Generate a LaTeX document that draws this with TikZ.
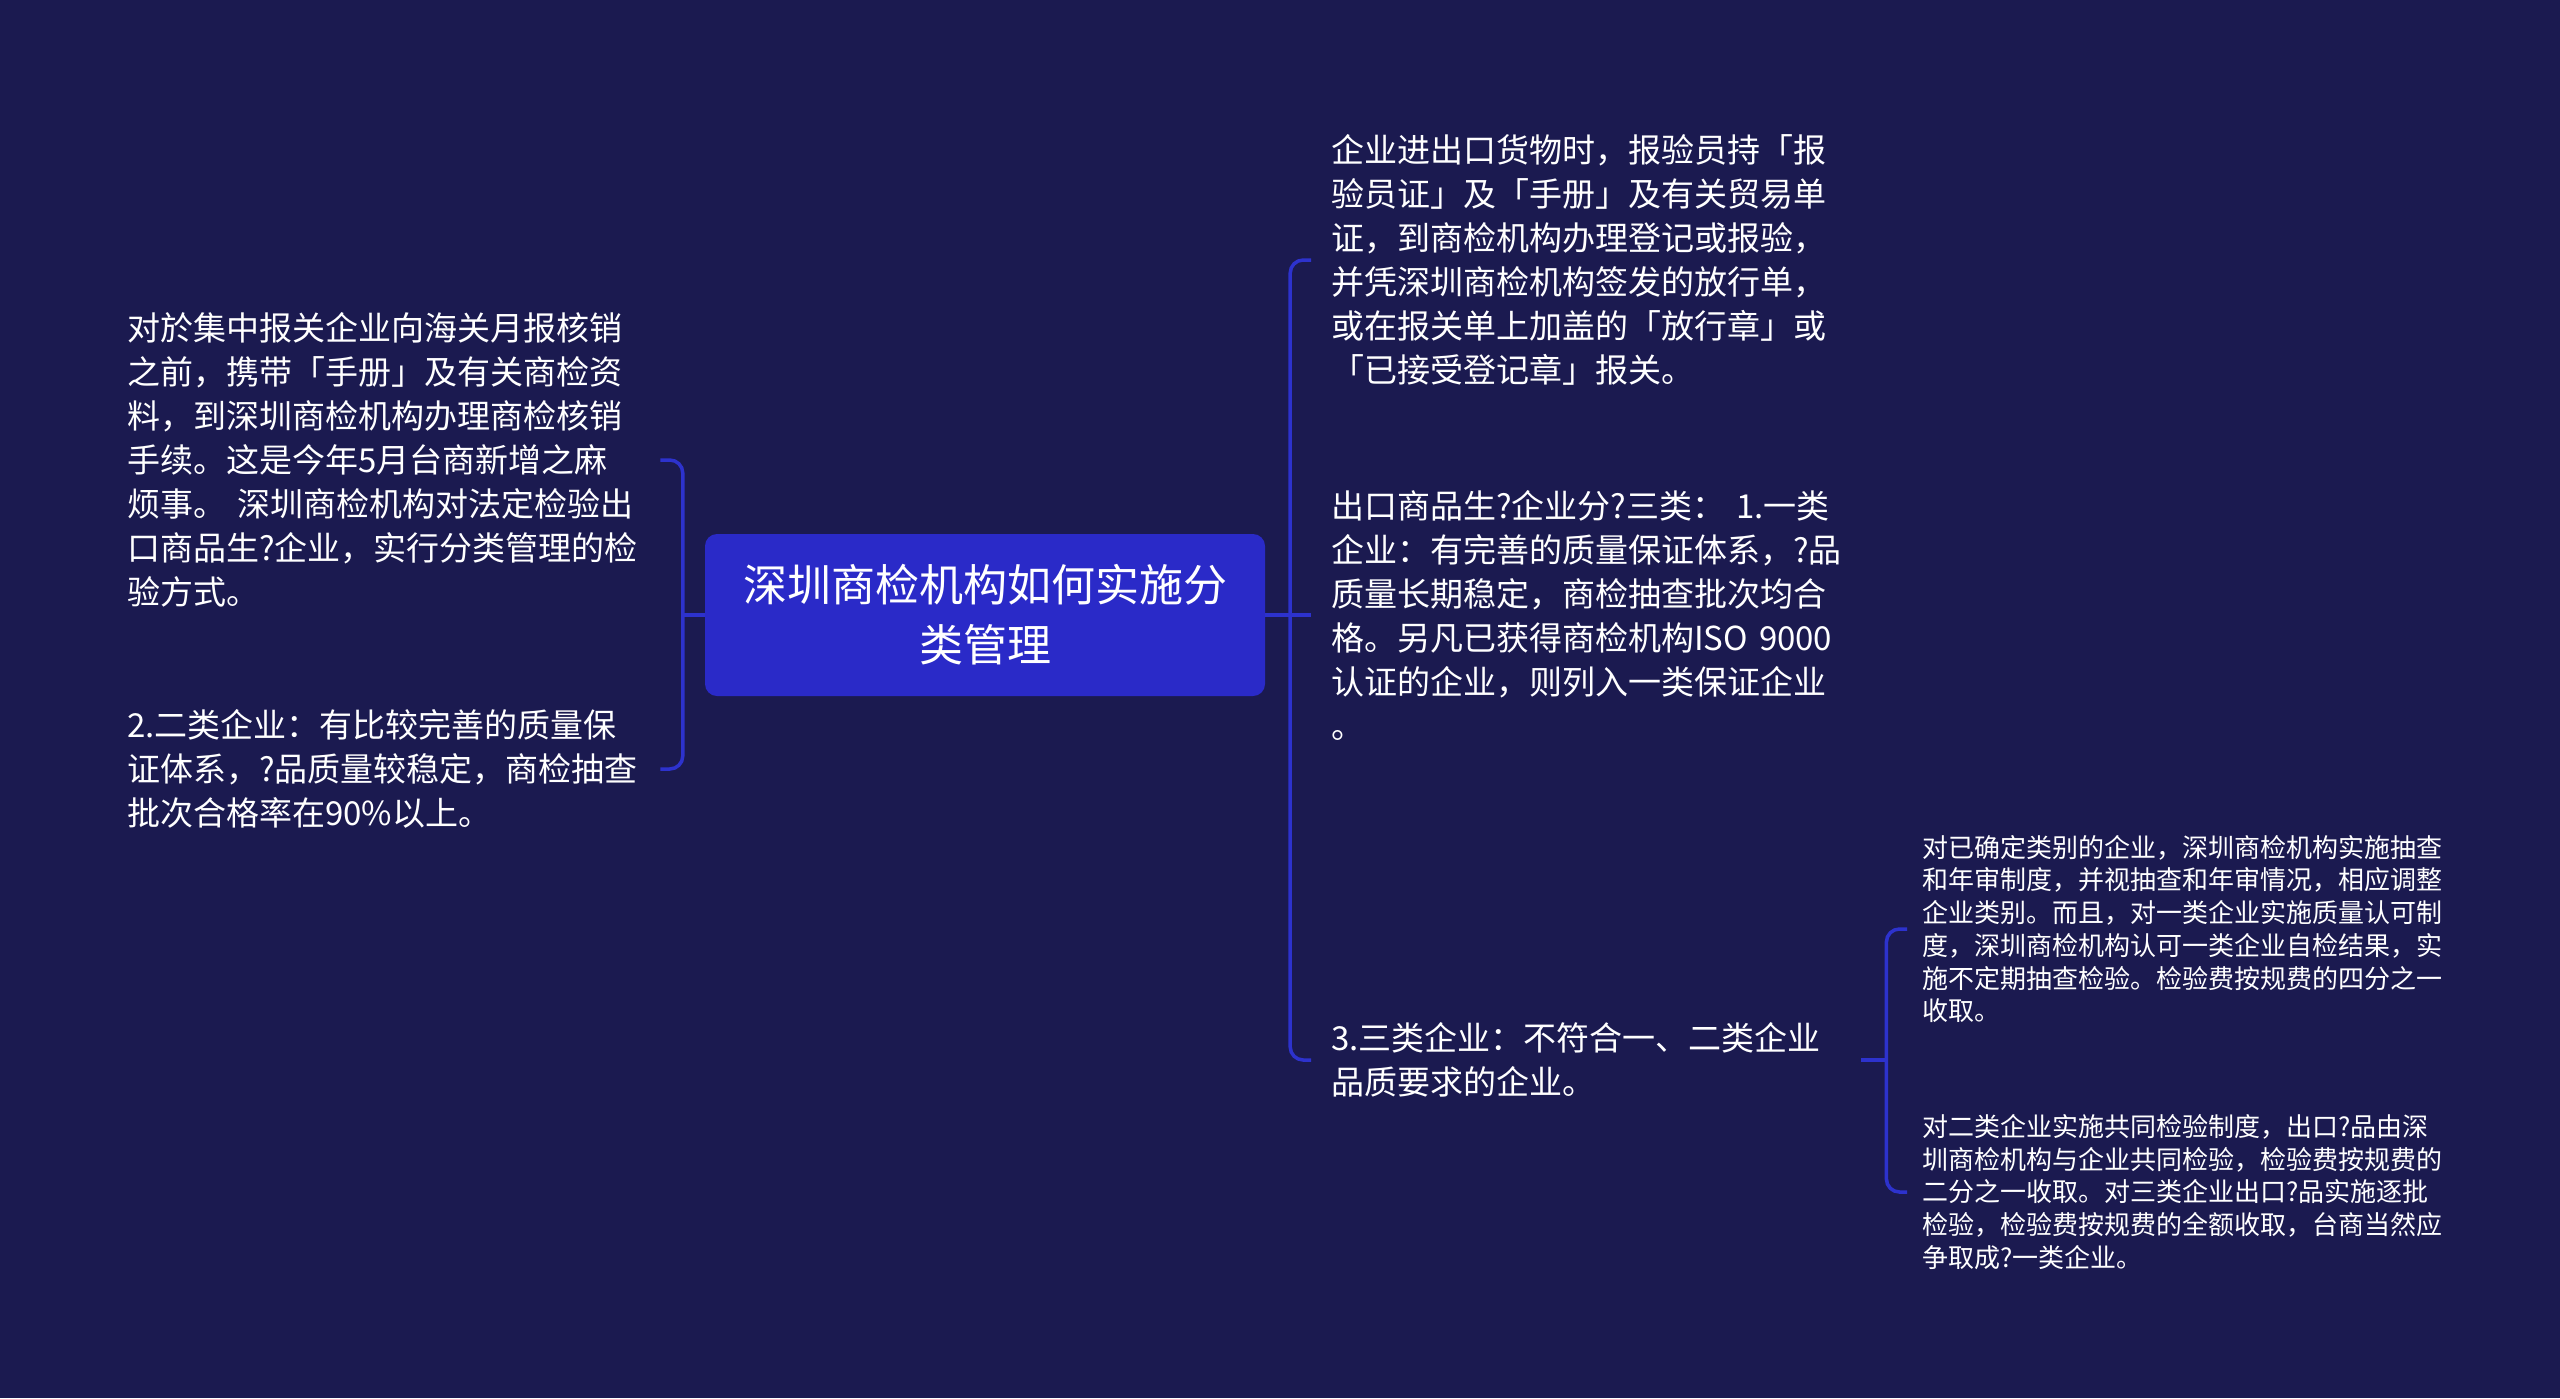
\documentclass[tikz,border=0pt]{standalone}
\usepackage{fontspec}
\setmainfont{Noto Sans CJK SC}
\definecolor{bgc}{RGB}{27,26,80}
\definecolor{nodec}{RGB}{42,42,200}
\definecolor{linec}{RGB}{45,50,205}
\tikzset{
  cnode/.style={fill=nodec, rounded corners=12pt, minimum width=560pt, minimum height=162pt, text=white, align=center, inner sep=0pt, font=\fontsize{44}{60}\selectfont},
  ltext/.style={text=white, inner sep=0pt, align=left, anchor=west, font=\fontsize{33}{44}\selectfont},
  stext/.style={text=white, inner sep=0pt, align=left, anchor=west, text width=520pt, font=\fontsize{26}{32.7}\selectfont},
  conn/.style={draw=linec, line width=3.5pt, rounded corners=13pt},
}
\begin{document}
\begin{tikzpicture}[x=1pt,y=-1pt]
\fill[bgc] (0,0) rectangle (2560,1398);
\useasboundingbox (0,0) rectangle (2560,1398);

\node[cnode] (c) at (985,615) {深圳商检机构如何实施分\\类管理};

\node[ltext, text width=513pt] (l1) at (127,460) {对於集中报关企业向海关月报核销\\之前，携带「手册」及有关商检资\\料，到深圳商检机构办理商检核销\\手续。这是今年5月台商新增之麻\\烦事。 深圳商检机构对法定检验出\\口商品生?企业，实行分类管理的检\\验方式。};
\node[ltext, text width=513pt] (l2) at (127,769) {2.二类企业：有比较完善的质量保\\证体系，?品质量较稳定，商检抽查\\批次合格率在90\%以上。};

\node[ltext, text width=530pt] (r1) at (1331,260) {企业进出口货物时，报验员持「报\\验员证」及「手册」及有关贸易单\\证，到商检机构办理登记或报验，\\并凭深圳商检机构签发的放行单，\\或在报关单上加盖的「放行章」或\\「已接受登记章」报关。};
\node[ltext, text width=530pt] (r2) at (1331,615) {出口商品生?企业分?三类：\ 1.一类\\企业：有完善的质量保证体系，?品\\质量长期稳定，商检抽查批次均合\\格。另凡已获得商检机构ISO 9000\\认证的企业，则列入一类保证企业\\。};
\node[ltext, text width=530pt] (r3) at (1331,1060) {3.三类企业：不符合一、二类企业\\品质要求的企业。};

\node[stext] (s1) at (1922,929) {对已确定类别的企业，深圳商检机构实施抽查\\和年审制度，并视抽查和年审情况，相应调整\\企业类别。而且，对一类企业实施质量认可制\\度，深圳商检机构认可一类企业自检结果，实\\施不定期抽查检验。检验费按规费的四分之一\\收取。};
\node[stext] (s2) at (1922,1192) {对二类企业实施共同检验制度，出口?品由深\\圳商检机构与企业共同检验，检验费按规费的\\二分之一收取。对三类企业出口?品实施逐批\\检验，检验费按规费的全额收取，台商当然应\\争取成?一类企业。};

% left connectors
\draw[conn] (c.west) -- ([xshift=-22pt]c.west);
\draw[conn] ([xshift=20pt]l1.east) -| ([xshift=-22pt]c.west) |- ([xshift=20pt]l2.east);

% right connectors
\draw[conn] (c.east) -- ([xshift=25pt]c.east);
\draw[conn] ([xshift=-20pt]r1.west) -| ([xshift=25pt]c.east) |- ([xshift=-20pt]r3.west);
\draw[conn] ([xshift=25pt]c.east) -- ([xshift=-20pt]r2.west);

% second level
\draw[conn] (r3.east) -- ([xshift=25pt]r3.east);
\draw[conn] ([xshift=-15pt]s1.west) -| ([xshift=25pt]r3.east) |- ([xshift=-15pt]s2.west);
\end{tikzpicture}
\end{document}
